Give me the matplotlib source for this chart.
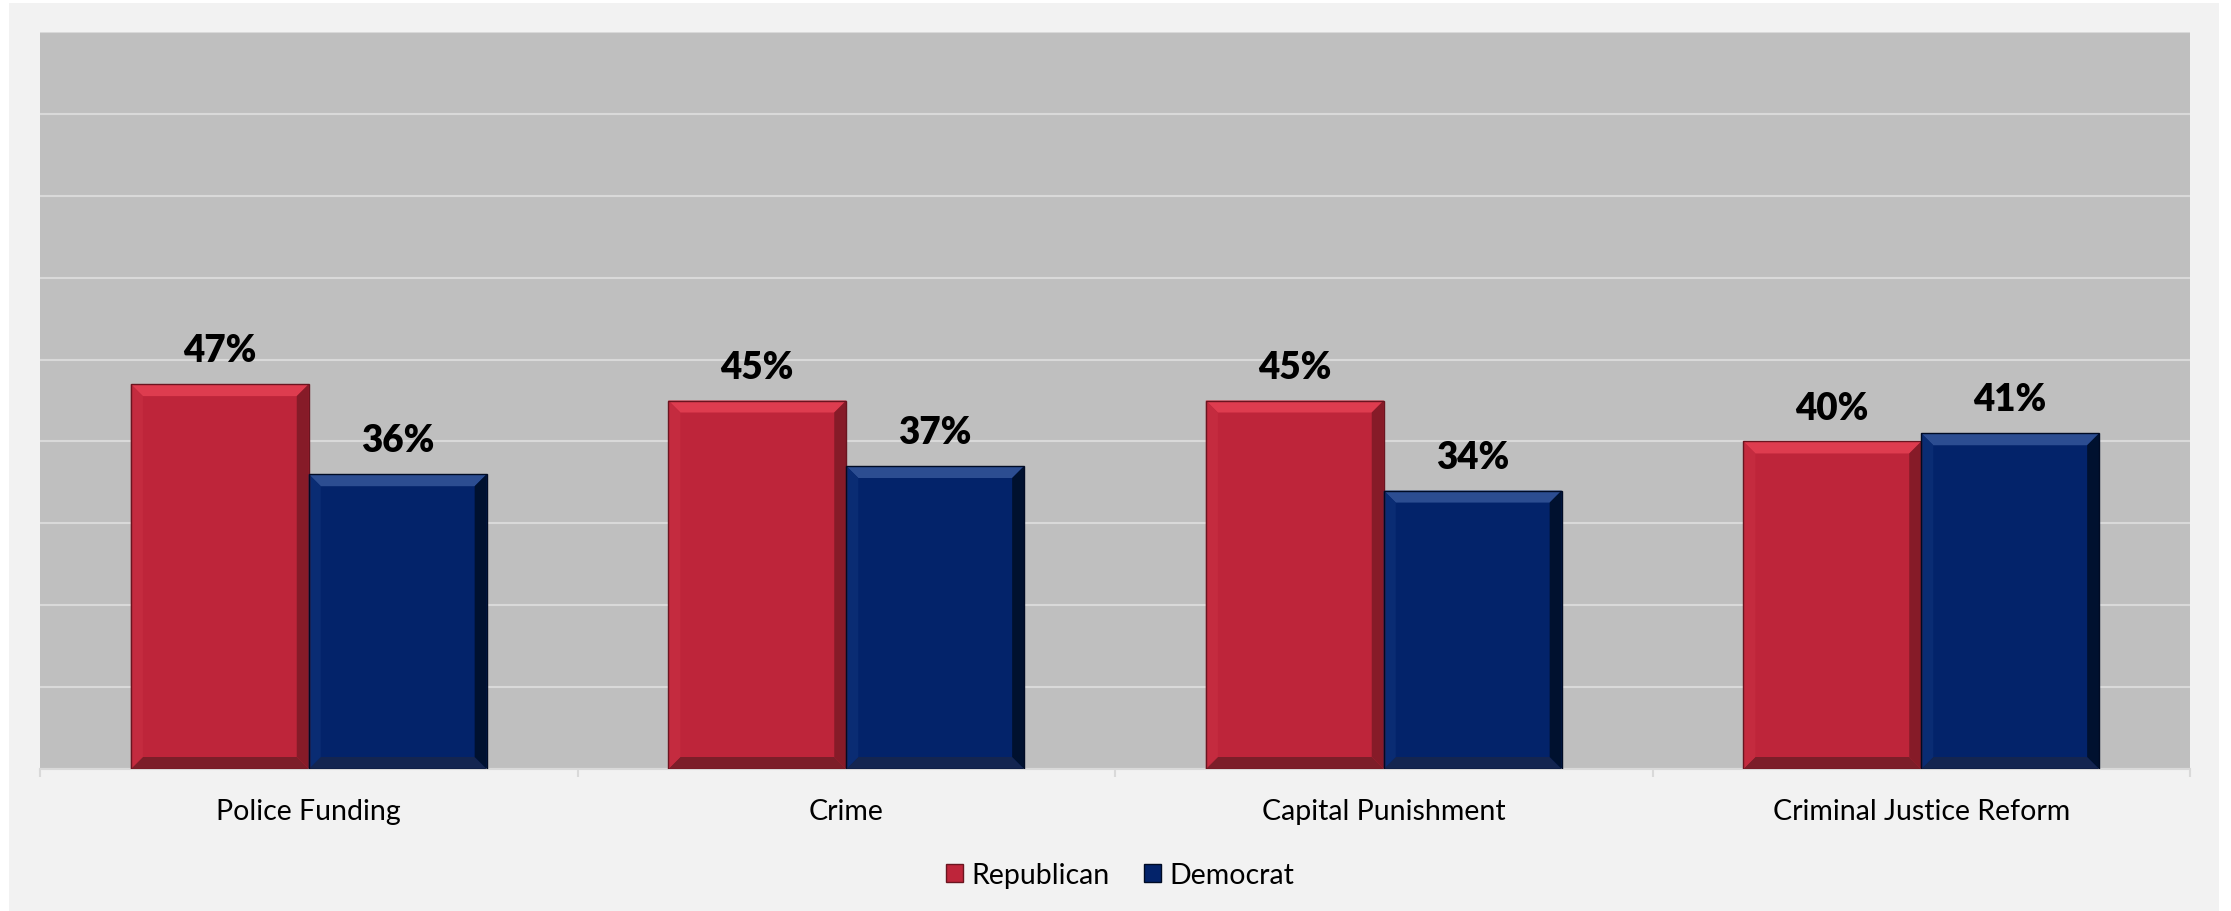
import numpy as np
import matplotlib
matplotlib.use("Agg")
from matplotlib import pyplot as plt
from matplotlib.patches import Rectangle, Polygon, Patch

# ---- data ----
categories = ["Police Funding", "Crime", "Capital Punishment", "Criminal Justice Reform"]
republican = [47, 45, 45, 40]
democrat = [36, 37, 34, 41]
series_names = ["Republican", "Democrat"]

W, H = 2231, 912
plt.rcParams["font.family"] = ["Lato", "DejaVu Sans"]

# face, top, left, right, bottom, outline
red_style = ["#BE253A", "#DE3C4F", "#C42B3F", "#861B28", "#7C1E29", "#6A1520"]
blue_style = ["#03236A", "#2C4D91", "#0A2C73", "#00112F", "#142550", "#000B24"]

fig = plt.figure(figsize=(W / 100, H / 100), dpi=100)
fig.patch.set_facecolor("white")
fig.patches.append(Rectangle((9 / W, 0), (2219 - 9) / W, 908 / H, transform=fig.transFigure,
                             facecolor="#F2F2F2", edgecolor="none", zorder=-1))

ax = fig.add_axes([40 / W, 1 - 770 / H, (2190 - 40) / W, (770 - 33) / H])
ax.set_facecolor("#BFBFBF")
ax.set_xlim(-0.5, 3.5)
ax.set_ylim(0, 90)
ax.set_axisbelow(True)

x = np.arange(len(categories))
width = 0.331


def bevel(ax, rect, style, px=12):
    # fake the Excel bevel effect with four trapezoids around each bar
    p0 = ax.transData.transform((0, 0))
    p1 = ax.transData.transform((1, 1))
    bx = px / (p1[0] - p0[0])
    by = px / (p1[1] - p0[1])
    x0, y0 = rect.get_x(), rect.get_y()
    x1, y1 = x0 + rect.get_width(), y0 + rect.get_height()
    sides = [
        ([(x0, y1), (x1, y1), (x1 - bx, y1 - by), (x0 + bx, y1 - by)], style[1]),
        ([(x0, y0), (x1, y0), (x1 - bx, y0 + by), (x0 + bx, y0 + by)], style[4]),
        ([(x0, y0), (x0, y1), (x0 + bx, y1 - by), (x0 + bx, y0 + by)], style[2]),
        ([(x1, y0), (x1, y1), (x1 - bx, y1 - by), (x1 - bx, y0 + by)], style[3]),
    ]
    for pts, c in sides:
        ax.add_patch(Polygon(pts, closed=True, facecolor=c, edgecolor="none", zorder=3))
    ax.add_patch(Rectangle((x0, y0), x1 - x0, y1 - y0, facecolor="none",
                           edgecolor=style[5], lw=1.0, zorder=4))


for vals, offs, style in [(republican, -width / 2, red_style), (democrat, width / 2, blue_style)]:
    bars = ax.bar(x + offs, vals, width, color=style[0], edgecolor="none", zorder=2)
    for rect, v in zip(bars, vals):
        bevel(ax, rect, style)
        ax.annotate(f"{v}%", (rect.get_x() + rect.get_width() / 2, v),
                    xytext=(0, 16.5), textcoords="offset points",
                    ha="center", va="baseline", fontsize=26.5, fontweight="heavy", color="black")

# gridlines
ax.set_yticks(np.arange(0, 91, 10))
ax.yaxis.grid(True, color="#D9D9D9", lw=1.5)
ax.tick_params(axis="y", length=0, labelleft=False)

# category axis
ax.set_xticks(x, categories)
ax.set_xticks(np.arange(-0.5, 4, 1), minor=True)
ax.tick_params(axis="x", which="major", length=0, pad=21, labelsize=20.5, labelcolor="black")
ax.tick_params(axis="x", which="minor", length=6, width=1.5, color="#D9D9D9")
for s in ["top", "left", "right"]:
    ax.spines[s].set_visible(False)
ax.spines["bottom"].set_color("#D9D9D9")
ax.spines["bottom"].set_linewidth(1.5)

handles = [Patch(facecolor=red_style[0], edgecolor=red_style[5]),
           Patch(facecolor=blue_style[0], edgecolor=blue_style[5])]
fig.legend(handles, series_names, loc="center", bbox_to_anchor=(1120 / W, 1 - 876 / H),
           ncol=2, frameon=False, fontsize=20.5, handlelength=0.6, handleheight=0.6,
           handletextpad=0.3, columnspacing=1.2)

fig.savefig("out.png", dpi=100)
